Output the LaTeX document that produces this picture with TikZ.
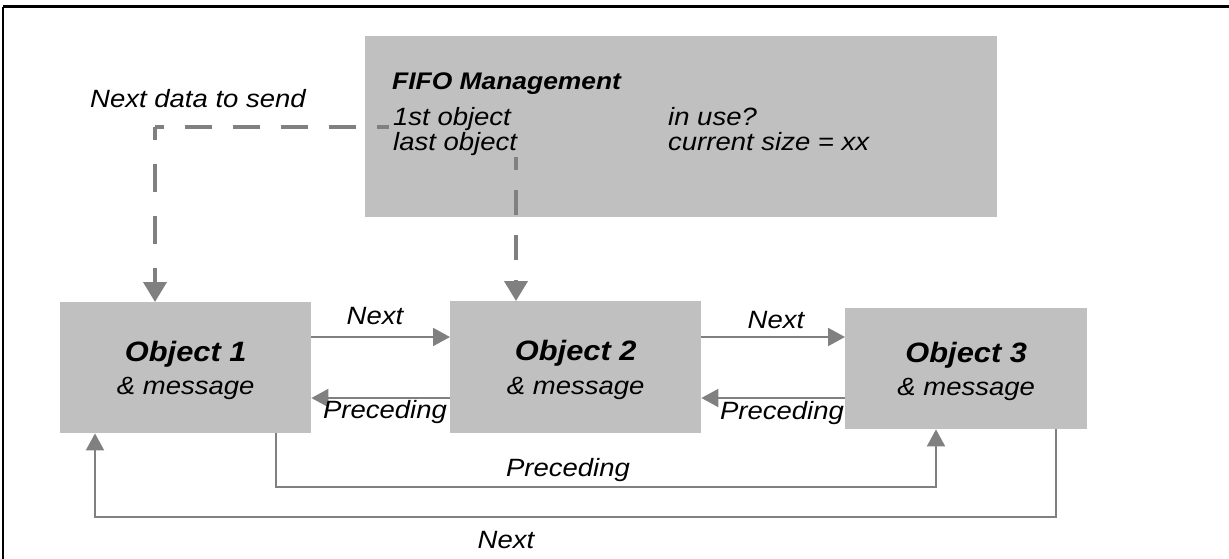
\documentclass[tikz,border=0pt]{standalone}
\usepackage{fontspec}
\setmainfont{Liberation Sans}[FakeStretch=1.1]
\usetikzlibrary{arrows.meta,calc}
\definecolor{boxgray}{RGB}{192,192,192}
\definecolor{linegray}{RGB}{128,128,128}
\tikzset{
  box/.style={fill=boxgray, draw=none, inner sep=0pt, anchor=north west},
  lbl/.style={font=\fontsize{25}{29}\selectfont\itshape, inner sep=0pt},
  ttl/.style={font=\fontsize{28}{32}\selectfont\bfseries\itshape, inner sep=0pt, anchor=base},
  fifottl/.style={font=\fontsize{24}{28}\selectfont\bfseries\itshape, inner sep=0pt, anchor=base west},
  conn/.style={draw=linegray, line width=2pt, -{Triangle[width=18pt,length=17pt]}},
  dsh/.style={draw=linegray, line width=4pt},
  dsharr/.style={dsh, -{Triangle[width=23pt,length=20pt]}},
}
\begin{document}
\begin{tikzpicture}[x=1pt,y=-1pt]
\useasboundingbox (0,0) rectangle (1229,559);
% frame
\draw[line width=3pt] (3,7) -- (1229,7);
\draw[line width=1.5pt] (3,7) -- (3,559);

% boxes
\node[box, minimum width=632pt, minimum height=181pt] (fifo) at (365,36) {};
\node[box, minimum width=251pt, minimum height=131pt] (o1) at (60,302) {};
\node[box, minimum width=251pt, minimum height=132pt] (o2) at (450,301) {};
\node[box, minimum width=242pt, minimum height=121pt] (o3) at (845,308) {};

% FIFO texts
\node[fifottl] (ft) at (392,90) {FIFO Management};
\node[lbl, anchor=base west] (f1st) at (393,126) {1st object};
\node[lbl, anchor=base west] (flast) at (393,150) {last object};
\node[lbl, anchor=base west] (fuse) at (668,126) {in use?};
\node[lbl, anchor=base west] (fsize) at (668,150) {current size = xx};

% object texts
\node[ttl] (t1) at ([yshift=6.5pt]o1.center) {Object 1};
\node[lbl, anchor=base] (m1) at ([yshift=-27pt]o1.center) {\& message};
\node[ttl] (t2) at ([yshift=6.5pt]o2.center) {Object 2};
\node[lbl, anchor=base] (m2) at ([yshift=-27pt]o2.center) {\& message};
\node[ttl] (t3) at ([yshift=6.5pt]o3.center) {Object 3};
\node[lbl, anchor=base] (m3) at ([yshift=-27pt]o3.center) {\& message};

% dashed connectors
\node[lbl, anchor=base west] (nds) at (90,108) {Next data to send};
\coordinate (f1) at (389,127);
\coordinate (f2) at (155,127);
\coordinate (f3) at (516,157);
\draw[dsh, dash pattern=on 27pt off 21pt, dash phase=15pt] (f1) -- (f2);
\draw[dsharr, dash pattern=on 28pt off 24pt, dash phase=15pt] (f2) -- (o1.north -| f2);
\draw[dsharr, dash pattern=on 25pt off 20pt, dash phase=12pt] (f3) -- (o2.north -| f3);

% horizontal connectors
\coordinate (yn) at (0,337);
\coordinate (yp) at (0,398);
\draw[conn] (o1.east |- yn) -- (o2.west |- yn);
\draw[conn] (o2.west |- yp) -- (o1.east |- yp);
\draw[conn] (o2.east |- yn) -- (o3.west |- yn);
\draw[conn] (o3.west |- yp) -- (o2.east |- yp);
\node[lbl] (ln1) at (375,316) {Next};
\node[lbl] (lp1) at (385,412) {Preceding};
\node[lbl] (ln2) at (776,320) {Next};
\node[lbl] (lp2) at (782,413) {Preceding};

% bottom connectors
\coordinate (b1) at (276,487);
\coordinate (b2) at (936,487);
\draw[conn] (o1.south -| b1) -- (b1) -- (b2) -- (o3.south -| b2);
\node[lbl] (lp3) at (568,470) {Preceding};
\coordinate (n1) at (1056,517);
\coordinate (n2) at (95,517);
\draw[conn] (o3.south -| n1) -- (n1) -- (n2) -- (o1.south -| n2);
\node[lbl] (ln3) at (506,540) {Next};
\end{tikzpicture}
\end{document}
